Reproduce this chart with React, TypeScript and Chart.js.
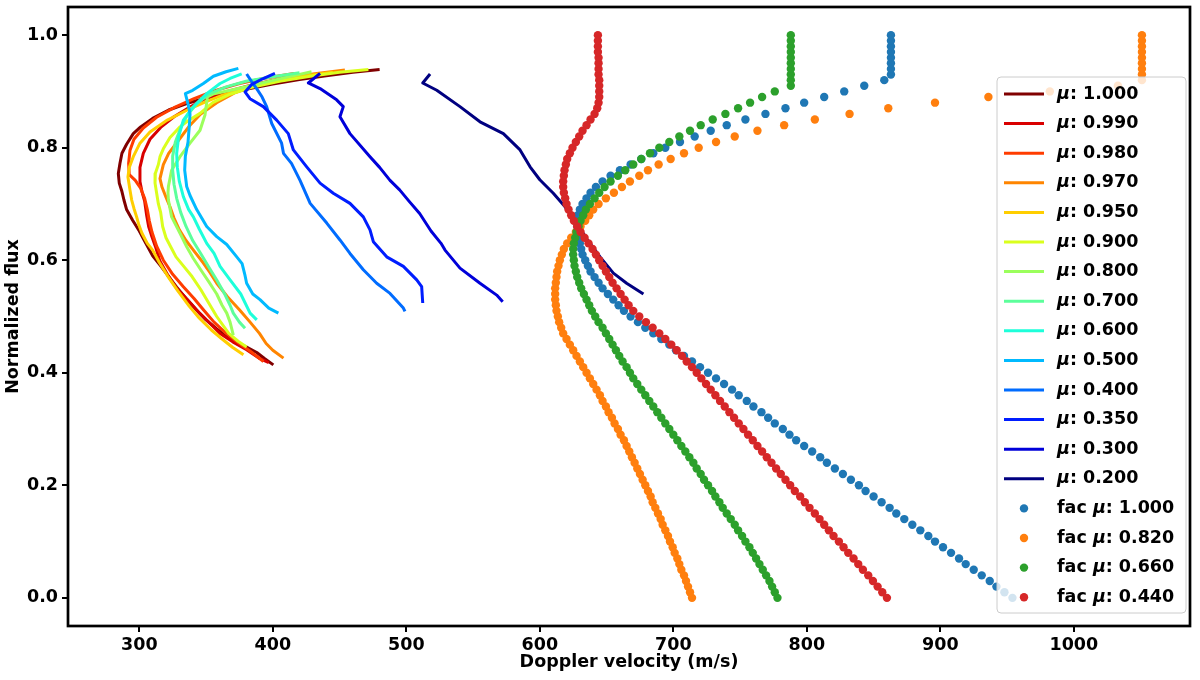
import { useEffect, useRef } from "react";
import { Chart, registerables } from "chart.js";

Chart.register(...registerables);

// ---------- axes ----------
const X_TICKS = [300, 400, 500, 600, 700, 800, 900, 1000];
const Y_TICKS = [0.0, 0.2, 0.4, 0.6, 0.8, 1.0];

// ---------- measured line profiles (Doppler velocity, normalized flux) ----------
const MU_LABELS = ["μ: 1.000", "μ: 0.990", "μ: 0.980", "μ: 0.970", "μ: 0.950", "μ: 0.900", "μ: 0.800", "μ: 0.700", "μ: 0.600", "μ: 0.500", "μ: 0.400", "μ: 0.350", "μ: 0.300", "μ: 0.200"];

const MU100_V = [480, 460, 440, 420, 400, 380, 362, 348, 336, 322, 310, 301, 295.5, 290.5, 287, 285.5, 284.3, 285, 287, 288.5, 290.5, 295, 300, 304, 310, 316, 322, 328, 335, 343, 350, 358, 365.5, 372, 380, 388, 394, 400.4];
const MU100_F = [0.939, 0.934, 0.928, 0.921, 0.913, 0.904, 0.895, 0.887, 0.879, 0.867, 0.852, 0.837, 0.825, 0.806, 0.790, 0.772, 0.754, 0.737, 0.722, 0.707, 0.690, 0.671, 0.652, 0.634, 0.608, 0.590, 0.571, 0.552, 0.532, 0.511, 0.494, 0.478, 0.464, 0.455, 0.446, 0.436, 0.425, 0.414];

const MU099_V = [425, 405, 385, 366, 350, 337, 326, 316, 308, 303, 300.5, 300.5, 302, 304, 305.5, 307, 309, 312, 315.5, 321, 328, 336, 345.5, 352, 360.5, 370, 380.4, 390.4, 397];
const MU099_F = [0.930, 0.922, 0.912, 0.900, 0.888, 0.871, 0.855, 0.836, 0.815, 0.790, 0.765, 0.740, 0.722, 0.705, 0.680, 0.660, 0.645, 0.625, 0.598, 0.575, 0.550, 0.530, 0.505, 0.490, 0.470, 0.455, 0.441, 0.425, 0.418];

const MU098_V = [416, 395, 375, 356, 341, 326, 313, 303, 296, 293, 292, 292.5, 297, 301, 304, 306, 307.5, 309.5, 313, 318, 325, 333, 341, 348, 356, 365, 375, 385, 393];
const MU098_F = [0.932, 0.924, 0.914, 0.901, 0.887, 0.871, 0.854, 0.835, 0.815, 0.795, 0.772, 0.752, 0.742, 0.728, 0.710, 0.690, 0.670, 0.650, 0.625, 0.600, 0.575, 0.553, 0.532, 0.512, 0.490, 0.470, 0.452, 0.435, 0.420];

const MU097_V = [454, 430, 410, 390, 372, 358, 346, 338, 330, 322, 318, 315.5, 317, 320, 323, 326, 330, 335, 340.5, 348, 353, 358, 366, 375, 383, 390, 395, 400, 408];
const MU097_F = [0.938, 0.931, 0.922, 0.912, 0.898, 0.880, 0.860, 0.840, 0.815, 0.790, 0.770, 0.745, 0.730, 0.712, 0.695, 0.675, 0.654, 0.635, 0.618, 0.595, 0.578, 0.559, 0.535, 0.512, 0.490, 0.470, 0.452, 0.440, 0.426];

const MU095_V = [445, 420, 398, 378, 362, 350, 336, 321, 308, 300.5, 295.5, 292.5, 291.5, 293, 294.3, 296, 298, 299.5, 302, 306, 310, 315, 321.5, 329, 337.5, 345, 354, 362, 370, 378];
const MU095_F = [0.934, 0.926, 0.916, 0.905, 0.893, 0.882, 0.867, 0.849, 0.828, 0.808, 0.784, 0.765, 0.748, 0.725, 0.707, 0.692, 0.677, 0.664, 0.648, 0.630, 0.618, 0.596, 0.571, 0.545, 0.518, 0.497, 0.476, 0.460, 0.445, 0.432];

const MU090_V = [471.6, 450, 428, 405, 385, 368, 355, 345.5, 336, 330.5, 323, 318, 315.5, 314.3, 312, 311.8, 313, 314.3, 316, 317.5, 320, 323.5, 327.5, 333, 339.5, 346, 352, 358, 367, 374, 380.4];
const MU090_F = [0.939, 0.934, 0.927, 0.918, 0.908, 0.895, 0.880, 0.861, 0.847, 0.837, 0.818, 0.798, 0.784, 0.770, 0.754, 0.737, 0.719, 0.700, 0.685, 0.660, 0.640, 0.624, 0.606, 0.590, 0.571, 0.548, 0.524, 0.500, 0.470, 0.456, 0.446];

const MU080_V = [429, 410, 390, 370, 356, 351, 350.5, 349.2, 345.5, 338, 330.5, 324.2, 321.8, 321.5, 321.8, 324.2, 330.5, 335.5, 340.5, 346, 352, 358, 362, 365.5, 368, 370.4];
const MU080_F = [0.935, 0.925, 0.914, 0.903, 0.896, 0.890, 0.880, 0.858, 0.831, 0.808, 0.784, 0.760, 0.731, 0.720, 0.707, 0.677, 0.648, 0.624, 0.603, 0.583, 0.562, 0.540, 0.520, 0.506, 0.490, 0.467];

const MU070_V = [420, 400, 380, 365, 352, 343, 336, 331, 327, 325, 325, 326, 328, 331, 335, 340, 346, 352, 358, 364, 368, 370.4, 375, 379.2];
const MU070_F = [0.933, 0.926, 0.918, 0.908, 0.895, 0.878, 0.858, 0.835, 0.810, 0.785, 0.760, 0.735, 0.710, 0.685, 0.660, 0.635, 0.612, 0.588, 0.565, 0.540, 0.520, 0.506, 0.490, 0.479];

const MU060_V = [376.7, 368, 360.5, 350.5, 340.5, 333, 329.5, 328, 328.5, 330, 333, 337, 340.5, 345, 350.5, 356, 360.5, 368, 376, 383, 388];
const MU060_F = [0.931, 0.923, 0.914, 0.896, 0.873, 0.849, 0.820, 0.790, 0.765, 0.740, 0.713, 0.690, 0.677, 0.655, 0.630, 0.612, 0.589, 0.565, 0.540, 0.506, 0.494];

const MU050_V = [374.2, 365, 355.5, 348, 340, 334.5, 336.7, 338, 337.5, 336.5, 334.5, 334, 335.5, 338, 343, 350.5, 358, 365.5, 373, 377, 379, 380.4, 385, 390.4, 397, 404.2];
const MU050_F = [0.941, 0.935, 0.927, 0.914, 0.902, 0.896, 0.876, 0.860, 0.840, 0.810, 0.785, 0.760, 0.731, 0.715, 0.690, 0.660, 0.642, 0.628, 0.606, 0.594, 0.575, 0.559, 0.540, 0.530, 0.515, 0.506];

const MU040_V = [380.4, 384, 387.9, 392, 395.4, 399.2, 406.6, 408, 414, 420.4, 428, 440.4, 450.3, 457.8, 467.8, 477.8, 487.8, 497.8, 499];
const MU040_F = [0.931, 0.918, 0.905, 0.890, 0.873, 0.843, 0.808, 0.790, 0.772, 0.742, 0.701, 0.666, 0.636, 0.612, 0.583, 0.559, 0.541, 0.515, 0.509];

const MU035_V = [401.6, 392, 384, 379.2, 382.9, 392.9, 402.9, 411.6, 415.4, 425.4, 435.4, 445.3, 457.8, 467.8, 472.8, 475.3, 485.3, 497.8, 507.8, 511.5, 512.3];
const MU035_F = [0.932, 0.922, 0.912, 0.899, 0.887, 0.873, 0.849, 0.825, 0.796, 0.766, 0.737, 0.719, 0.701, 0.677, 0.654, 0.633, 0.606, 0.589, 0.565, 0.553, 0.524];

const MU030_V = [435.4, 426.6, 435.4, 447.8, 452.8, 450.3, 457.8, 472.8, 480, 487.8, 495, 502, 510, 518.5, 526, 529, 540.2, 555.2, 567.7, 572.2];
const MU030_F = [0.932, 0.915, 0.905, 0.885, 0.873, 0.855, 0.825, 0.784, 0.765, 0.742, 0.725, 0.705, 0.683, 0.652, 0.630, 0.618, 0.586, 0.559, 0.538, 0.526];

const MU020_V = [517.8, 512.3, 522.8, 540.2, 555.2, 572.7, 585.2, 592.7, 600, 610.1, 618.9, 627.6, 635.1, 645.1, 655.1, 665, 677.6];
const MU020_F = [0.931, 0.915, 0.902, 0.873, 0.846, 0.825, 0.796, 0.766, 0.743, 0.719, 0.695, 0.666, 0.638, 0.606, 0.577, 0.559, 0.540];

// ---------- facula model bisectors (scatter) ----------
const FAC_LABELS = ["fac μ: 1.000", "fac μ: 0.820", "fac μ: 0.660", "fac μ: 0.440"];

const FAC_FLUX = [
  0.00, 0.01, 0.02, 0.03, 0.04, 0.05, 0.06, 0.07, 0.08, 0.09,
  0.10, 0.11, 0.12, 0.13, 0.14, 0.15, 0.16, 0.17, 0.18, 0.19,
  0.20, 0.21, 0.22, 0.23, 0.24, 0.25, 0.26, 0.27, 0.28, 0.29,
  0.30, 0.31, 0.32, 0.33, 0.34, 0.35, 0.36, 0.37, 0.38, 0.39,
  0.40, 0.41, 0.42, 0.43, 0.44, 0.45, 0.46, 0.47, 0.48, 0.49,
  0.50, 0.51, 0.52, 0.53, 0.54, 0.55, 0.56, 0.57, 0.58, 0.59,
  0.60, 0.61, 0.62, 0.63, 0.64, 0.65, 0.66, 0.67, 0.68, 0.69,
  0.70, 0.71, 0.72, 0.73, 0.74, 0.75, 0.76, 0.77, 0.78, 0.79,
  0.80, 0.81, 0.82, 0.83, 0.84, 0.85, 0.86, 0.87, 0.88, 0.89,
  0.90, 0.91, 0.92, 0.93, 0.94, 0.95, 0.96, 0.97, 0.98, 0.99,
  1.00,
];

const FAC100_V = [
  954, 948, 942, 937, 931, 925, 919, 914, 908, 902,
  896, 891, 885, 879, 873, 867, 862, 856, 850, 844,
  839, 833, 827, 821, 815, 810, 804, 798, 792, 787,
  782, 776, 771, 766, 760, 755, 749, 744, 738, 732,
  726, 720, 714, 708, 702, 697, 691, 685, 679, 673.5,
  668, 663, 659, 655, 651, 647, 644, 641, 638, 636,
  634, 632, 631, 630, 629, 628.5, 628, 628, 628.5, 630,
  632, 635, 638, 642, 647, 653, 660, 668, 676, 685,
  694, 705, 716, 728, 740, 754, 769, 784, 798, 813,
  828, 843, 858, 863, 863, 863, 863, 863, 863, 863,
  863,
];

const FAC082_V = [
  714, 712.5, 711, 709.5, 708, 706, 704.5, 703, 701, 699.5,
  697.5, 696, 694, 692, 690.5, 688.5, 686.5, 684.5, 683, 681,
  679, 677, 675, 673, 671, 669, 667, 665, 663, 660.5,
  658.5, 656, 654, 651.5, 649.5, 647, 645, 642.5, 640, 637.5,
  635, 632.5, 630, 627.5, 625, 622.5, 620, 617.5, 616, 614.5,
  613.5, 612.5, 612, 611.5, 611.5, 611.5, 612, 612.5, 613, 614,
  615, 616.5, 618, 620.5, 623.5, 627, 630.5, 634, 637, 640,
  644, 649.5, 655.5, 661.5, 667.5, 674.5, 681, 689, 698, 708,
  719, 732, 746, 763, 783, 806, 832, 861, 896, 936,
  982, 1033, 1051, 1051, 1051, 1051, 1051, 1051, 1051, 1051,
  1051,
];

const FAC066_V = [
  778, 776, 774, 772, 769.5, 767, 764.5, 762, 759.5, 757,
  754, 751.5, 748.5, 746, 743, 740, 737, 734.5, 731.5, 729,
  726, 723, 720.5, 717.5, 715, 712, 709, 706, 703, 700,
  697, 694, 691, 688, 685, 682, 679, 676, 673, 670,
  667.5, 665, 662, 659.5, 657, 654.5, 652, 649.5, 647, 644,
  641.5, 639, 637, 635, 633, 631, 629.5, 628, 627, 626,
  625.5, 625, 625, 625.5, 626.5, 627.5, 629, 630.5, 632.5, 634.5,
  637.5, 641, 644.5, 648.5, 653, 658.5, 664, 670, 676, 682.5,
  689.5, 697, 704.5, 712.5, 720.5, 729.5, 739, 748.5, 757.5, 766.5,
  776, 788, 788, 788, 788, 788, 788, 788, 788, 788,
  788,
];

const FAC044_V = [
  860, 856.5, 853, 849.5, 846, 842, 838.5, 835, 831, 827.5,
  824, 820, 816.5, 813, 809.5, 806, 802, 798.5, 795, 791,
  787.5, 784, 780.5, 777, 773.5, 770, 766.5, 763, 759.5, 756,
  752.5, 749, 745.5, 742, 738.5, 735, 731.5, 728, 724.5, 721,
  717.5, 714, 710, 706.5, 702.5, 698.5, 694, 689.5, 684.5, 679.5,
  674.5, 670, 666.5, 663.5, 660.5, 657.5, 654.5, 652, 649.5, 647,
  644.5, 642, 639.5, 636.5, 633.5, 630.5, 628, 625.5, 623.5, 621.5,
  620, 619, 618, 617.5, 617.5, 618, 618.5, 619.5, 620.5, 622.5,
  624.5, 627, 629.5, 632, 635, 638, 641, 643, 644, 644.5,
  644.5, 644.5, 644.5, 644, 644, 644, 644, 643.5, 643.5, 643.5,
  643.5,
];

// ---------- styles ----------
const MU_COLORS = ["#800000", "#d90000", "#ff3c00", "#ff8500", "#ffce00", "#daff1d", "#9bff5c", "#5cff9b", "#1dffda", "#00baff", "#006cff", "#001dff", "#0000d9", "#000080"];
const FAC_COLORS = ["#1f77b4", "#ff7f0e", "#2ca02c", "#d62728"];
const FONT = "'DejaVu Sans', 'Liberation Sans', sans-serif";
const FS = 17.5;

const LINE_V = [MU100_V, MU099_V, MU098_V, MU097_V, MU095_V, MU090_V, MU080_V, MU070_V, MU060_V, MU050_V, MU040_V, MU035_V, MU030_V, MU020_V];
const LINE_F = [MU100_F, MU099_F, MU098_F, MU097_F, MU095_F, MU090_F, MU080_F, MU070_F, MU060_F, MU050_F, MU040_F, MU035_F, MU030_F, MU020_F];
const FAC_V = [FAC100_V, FAC082_V, FAC066_V, FAC044_V];

export default function App() {
  const ref = useRef<HTMLCanvasElement | null>(null);

  useEffect(() => {
    document.body.style.margin = "0";
    const canvas = ref.current;
    if (!canvas) return;

    const lineSets = MU_LABELS.map((label, k) => ({
      label,
      data: LINE_V[k].map((x, i) => ({ x, y: LINE_F[k][i] })),
      showLine: true,
      borderColor: MU_COLORS[k],
      backgroundColor: MU_COLORS[k],
      borderWidth: 3,
      borderJoinStyle: "round" as const,
      borderCapStyle: "butt" as const,
      pointRadius: 0,
      pointHoverRadius: 0,
      tension: 0,
      order: 17 - k,
    }));
    const facSets = FAC_LABELS.map((label, k) => ({
      label,
      data: FAC_V[k].map((x, i) => ({ x, y: FAC_FLUX[i] })),
      showLine: false,
      borderColor: FAC_COLORS[k],
      backgroundColor: FAC_COLORS[k],
      pointRadius: 4.2,
      pointBorderWidth: 0,
      pointHoverRadius: 4.2,
      order: 3 - k,
    }));

    const legendItems = [
      ...MU_LABELS.map((label, k) => ({ label, color: MU_COLORS[k], kind: "line" })),
      ...FAC_LABELS.map((label, k) => ({ label, color: FAC_COLORS[k], kind: "dot" })),
    ];

    const framePlugin = {
      id: "frameAndLegend",
      afterDatasetsDraw(chart: any) {
        const { ctx, chartArea: ca } = chart;
        // legend box
        const bx = ca.right - 193;
        const by = ca.top + 70;
        const bw = 189;
        const bh = 536;
        ctx.save();
        ctx.beginPath();
        const r = 4;
        ctx.moveTo(bx + r, by);
        ctx.lineTo(bx + bw - r, by);
        ctx.arcTo(bx + bw, by, bx + bw, by + r, r);
        ctx.lineTo(bx + bw, by + bh - r);
        ctx.arcTo(bx + bw, by + bh, bx + bw - r, by + bh, r);
        ctx.lineTo(bx + r, by + bh);
        ctx.arcTo(bx, by + bh, bx, by + bh - r, r);
        ctx.lineTo(bx, by + r);
        ctx.arcTo(bx, by, bx + r, by, r);
        ctx.closePath();
        ctx.fillStyle = "rgba(255,255,255,0.8)";
        ctx.fill();
        ctx.strokeStyle = "#cccccc";
        ctx.lineWidth = 1;
        ctx.stroke();

        ctx.textBaseline = "middle";
        legendItems.forEach((it, i) => {
          const cy = by + 17 + i * 29.6;
          if (it.kind === "line") {
            ctx.strokeStyle = it.color;
            ctx.lineWidth = 3;
            ctx.beginPath();
            ctx.moveTo(bx + 7, cy);
            ctx.lineTo(bx + 47, cy);
            ctx.stroke();
          } else {
            ctx.fillStyle = it.color;
            ctx.beginPath();
            ctx.arc(bx + 27, cy, 4.2, 0, Math.PI * 2);
            ctx.fill();
          }
          const parts = it.label.split("μ");
          let tx = bx + 60;
          ctx.fillStyle = "#000";
          ctx.font = `bold ${FS}px ${FONT}`;
          if (parts[0]) {
            ctx.fillText(parts[0], tx, cy);
            tx += ctx.measureText(parts[0]).width;
          }
          ctx.font = `italic bold ${FS}px ${FONT}`;
          ctx.fillText("μ", tx, cy);
          tx += ctx.measureText("μ").width;
          ctx.font = `bold ${FS}px ${FONT}`;
          ctx.fillText(parts[1], tx, cy);
        });

        // axes frame
        ctx.strokeStyle = "#000";
        ctx.lineWidth = 2.7;
        ctx.strokeRect(ca.left, ca.top, ca.right - ca.left, ca.bottom - ca.top);
        ctx.restore();
      },
    };

    const chart = new Chart(canvas, {
      type: "scatter",
      data: { datasets: [...lineSets, ...facSets] as any },
      options: {
        animation: false,
        responsive: false,
        devicePixelRatio: 1,
        layout: { padding: { left: 0, right: 10, top: 7, bottom: 0 } },
        plugins: { legend: { display: false }, tooltip: { enabled: false } },
        events: [],
        scales: {
          x: {
            type: "linear",
            min: 246.6,
            max: 1087,
            afterBuildTicks: (s: any) => {
              s.ticks = X_TICKS.map((value) => ({ value }));
            },
            afterFit: (s: any) => {
              s.height = 54;
              s.paddingLeft = 0;
              s.paddingRight = 0;
            },
            ticks: {
              color: "#000",
              font: { family: FONT, size: FS, weight: "bold" },
              padding: 3,
              maxRotation: 0,
              autoSkip: false,
              callback: (v: any) => String(v),
            },
            grid: { drawOnChartArea: false, drawTicks: true, tickLength: 6, color: "#000", lineWidth: 2 },
            border: { display: false },
            title: {
              display: true,
              text: "Doppler velocity (m/s)",
              color: "#000",
              font: { family: FONT, size: FS, weight: "bold" },
              padding: { top: 0, bottom: 7 },
            },
          },
          y: {
            type: "linear",
            min: -0.05,
            max: 1.05,
            afterBuildTicks: (s: any) => {
              s.ticks = Y_TICKS.map((value) => ({ value }));
            },
            afterFit: (s: any) => {
              s.width = 68;
              s.paddingTop = 0;
              s.paddingBottom = 0;
            },
            ticks: {
              color: "#000",
              font: { family: FONT, size: FS, weight: "bold" },
              padding: 4,
              autoSkip: false,
              callback: (v: any) => Number(v).toFixed(1),
            },
            grid: { drawOnChartArea: false, drawTicks: true, tickLength: 6, color: "#000", lineWidth: 2 },
            border: { display: false },
            title: {
              display: true,
              text: "Normalized flux",
              color: "#000",
              font: { family: FONT, size: FS, weight: "bold" },
              padding: { top: 3, bottom: 0 },
            },
          },
        },
      },
      plugins: [framePlugin],
    });

    return () => chart.destroy();
  }, []);

  return (
    <div style={{ width: 1200, height: 680, position: "relative", background: "#fff" }}>
      <canvas ref={ref} width={1200} height={680} style={{ display: "block", width: 1200, height: 680 }} />
    </div>
  );
}
